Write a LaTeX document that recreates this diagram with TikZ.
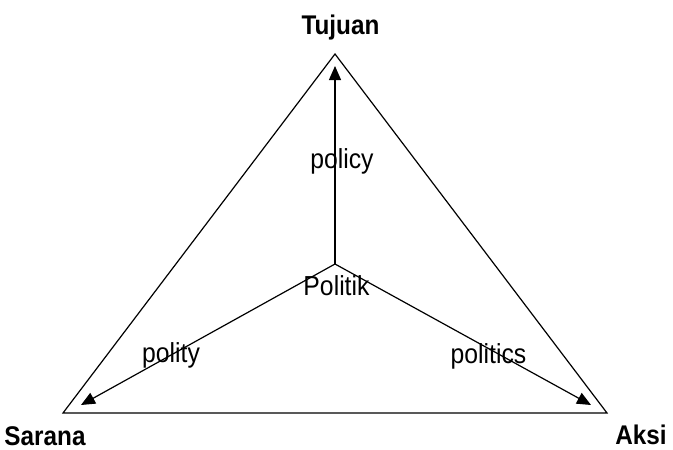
\documentclass[tikz,border=0pt]{standalone}
\usepackage{fontspec}
\setmainfont[FakeStretch=0.9]{Liberation Sans}
\usetikzlibrary{arrows.meta}

\begin{document}
\begin{tikzpicture}[x=1pt, y=-1pt,
    corner/.style={font=\fontsize{27}{30}\selectfont\bfseries, anchor=base, inner sep=0pt},
    lbl/.style={font=\fontsize{27.5}{30}\selectfont, anchor=base},
    arr/.style={-{Triangle[length=14pt, width=12pt]}, line width=1.2pt},
    side/.style={line width=1.2pt}
  ]
  \useasboundingbox (0,0) rectangle (673,450);

  % triangle corners
  \coordinate (top) at (335,54);
  \coordinate (left) at (63,413);
  \coordinate (right) at (607,413);
  \draw[side] (top) -- (left) -- (right) -- cycle;

  % centre and arrow ends
  \coordinate (mid) at (335,264);
  \coordinate (tt) at (335,66);
  \coordinate (tl) at (81,405);
  \coordinate (tr) at (591,405);
  \draw[arr] (mid) -- (tt);
  \draw[arr] (mid) -- (tl);
  \draw[arr] (mid) -- (tr);

  \node[lbl] (politik) at (336.5,295) {Politik};
  \node[lbl] (policy) at (342,168) {policy};
  \node[lbl] (polity) at (171,362) {polity};
  \node[lbl] (politics) at (488.5,363) {politics};

  \node[corner] (tujuan) at (340.5,34) {Tujuan};
  \node[corner] (sarana) at (45,445) {Sarana};
  \node[corner] (aksi) at (641,444) {Aksi};
\end{tikzpicture}
\end{document}
